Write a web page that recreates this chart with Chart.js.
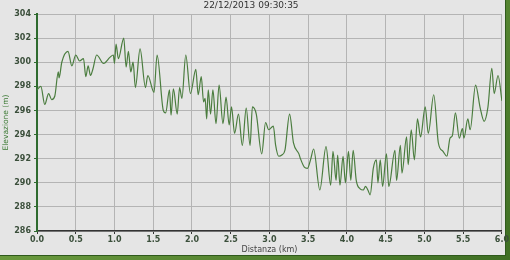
<!DOCTYPE html>
<html>
<head>
<meta charset="utf-8">
<script src="https://cdn.jsdelivr.net/npm/chart.js@4/dist/chart.umd.min.js"></script>
<style>
    html, body { margin: 0; padding: 0; }
    #frame {
        position: relative;
        width: 510px;
        height: 260px;
        background: linear-gradient(135deg, #7fae4a, #3f6f24);
    }
    #paper {
        position: absolute;
        left: 0;
        top: 0;
        width: 505px;
        height: 255px;
        background: #e5e5e5;
        border-right: 1px solid #2f5a1c;
        border-bottom: 1px solid #2f5a1c;
    }
    #elevation-chart {
        position: absolute;
        left: 0;
        top: 0;
    }
</style>
</head>
<body>
<div id="frame">
    <div id="paper"></div>
    <canvas id="elevation-chart" width="510" height="260"></canvas>
</div>
<script>
const chartTitle = "22/12/2013 09:30:35";
const xAxisTitle = "Distanza (km)";
const yAxisTitle = "Elevazione (m)";

// distance along the track (km) and elevation (m)
const distanceKm = [
    0.00, 0.05, 0.10, 0.15, 0.19, 0.23, 0.275, 0.285, 0.32, 0.40,
    0.45, 0.50, 0.55, 0.60, 0.63, 0.66, 0.69, 0.72, 0.77, 0.86,
    0.94, 0.985, 1.00, 1.02, 1.05, 1.12, 1.15, 1.18, 1.21, 1.24,
    1.27, 1.33, 1.40, 1.43, 1.51, 1.55, 1.63, 1.66, 1.71, 1.73,
    1.76, 1.81, 1.84, 1.87, 1.92, 1.98, 2.05, 2.08, 2.12, 2.15,
    2.17, 2.19, 2.21, 2.24, 2.27, 2.31, 2.35, 2.40, 2.44, 2.48,
    2.51, 2.55, 2.60, 2.65, 2.70, 2.75, 2.78, 2.83, 2.90, 2.95,
    2.99, 3.05, 3.08, 3.12, 3.16, 3.20, 3.26, 3.31, 3.38, 3.40,
    3.45, 3.49, 3.53, 3.57, 3.65, 3.73, 3.79, 3.82, 3.86, 3.88,
    3.91, 3.95, 3.98, 4.02, 4.05, 4.08, 4.12, 4.17, 4.21, 4.24,
    4.27, 4.30, 4.34, 4.38, 4.40, 4.43, 4.46, 4.51, 4.54, 4.62,
    4.64, 4.69, 4.71, 4.77, 4.79, 4.83, 4.87, 4.91, 4.95, 5.01,
    5.05, 5.12, 5.18, 5.24, 5.29, 5.33, 5.36, 5.40, 5.45, 5.49,
    5.51, 5.56, 5.59, 5.66, 5.72, 5.77, 5.82, 5.87, 5.90, 5.95,
    6.00
];
const elevationM = [
    297.7, 298.0, 296.5, 297.4, 296.9, 297.2, 299.2, 298.7, 300.0, 300.9,
    299.7, 300.6, 300.1, 300.3, 298.8, 299.7, 298.9, 299.4, 300.6, 299.9,
    300.4, 300.6, 299.9, 301.5, 300.3, 302.0, 299.6, 300.9, 299.2, 300.0,
    297.9, 301.1, 297.9, 298.9, 297.5, 300.6, 296.0, 295.8, 297.7, 295.6,
    297.8, 295.7, 297.9, 297.0, 300.6, 297.4, 299.4, 297.3, 298.8, 296.7,
    297.0, 295.3, 297.7, 295.7, 297.7, 294.9, 298.1, 294.9, 297.1, 294.8,
    296.3, 294.1, 295.7, 293.1, 296.2, 293.1, 296.3, 295.7, 292.4, 295.0,
    294.4, 294.7, 293.1, 292.2, 292.3, 292.7, 295.7, 293.3, 292.4, 292.0,
    291.3, 291.2, 291.9, 292.8, 289.4, 293.0, 289.8, 292.6, 290.2, 292.3,
    289.8, 292.2, 290.0, 292.6, 290.2, 292.7, 290.2, 289.5, 289.4, 289.7,
    289.4, 289.0, 291.2, 291.9, 290.0, 291.9, 289.7, 292.4, 289.7, 292.7,
    290.2, 293.1, 290.8, 293.8, 291.5, 294.4, 291.9, 295.3, 293.8, 296.3,
    294.1, 297.3, 293.3, 292.6, 292.2, 293.7, 293.9, 295.8, 293.7, 294.5,
    293.7, 295.3, 294.4, 298.1, 296.2, 295.1, 296.3, 299.5, 297.4, 298.9,
    296.8
];

const xMin = 0, xMax = 6, xStep = 0.5;
const yMin = 286, yMax = 304, yStep = 2;

const points = distanceKm.map((d, i) => ({ x: d, y: elevationM[i] }));

new Chart(document.getElementById("elevation-chart"), {
    type: 'line',
    data: {
        datasets: [{
            label: yAxisTitle,
            data: points,
            borderColor: '#4b7d3f',
            borderWidth: 1.2,
            pointRadius: 0,
            fill: false,
            cubicInterpolationMode: 'monotone'
        }]
    },
    options: {
        responsive: false,
        animation: false,
        devicePixelRatio: 1,
        layout: {
            padding: { top: 0, left: 0, right: 8, bottom: 0 }
        },
        plugins: {
            legend: { display: false },
            tooltip: { enabled: false },
            title: {
                display: true,
                text: chartTitle,
                color: '#333333',
                font: { family: 'DejaVu Sans', size: 9, weight: 'normal' },
                padding: { top: 0, bottom: 3.2 }
            }
        },
        scales: {
            x: {
                type: 'linear',
                min: xMin,
                max: xMax,
                afterFit: s => { s.height = 29; },
                ticks: {
                    stepSize: xStep,
                    autoSkip: false,
                    padding: 1,
                    maxRotation: 0,
                    color: '#3b4f3b',
                    font: { family: 'DejaVu Sans', size: 8, weight: 'bold' },
                    callback: v => v.toFixed(1)
                },
                grid: {
                    color: '#b4b4b4',
                    lineWidth: 1,
                    tickLength: 3,
                    tickColor: '#333333'
                },
                border: { color: '#333333', width: 1.5 },
                title: {
                    display: true,
                    text: xAxisTitle,
                    color: '#444444',
                    font: { family: 'DejaVu Sans', size: 8 },
                    padding: { top: 0, bottom: 5 }
                }
            },
            y: {
                min: yMin,
                max: yMax,
                afterFit: s => { s.width = 37; },
                ticks: {
                    stepSize: yStep,
                    autoSkip: false,
                    padding: 3,
                    color: '#3b4f3b',
                    font: { family: 'DejaVu Sans', size: 8, weight: 'bold' }
                },
                grid: {
                    color: '#b4b4b4',
                    lineWidth: 1,
                    tickLength: 3,
                    tickColor: '#2f6b2f'
                },
                border: { color: '#2f6b2f', width: 2 },
                title: {
                    display: true,
                    text: yAxisTitle,
                    color: '#3c7a34',
                    font: { family: 'DejaVu Sans', size: 7.5 },
                    padding: { top: 2, bottom: 0 }
                }
            }
        }
    }
});
</script>
</body>
</html>
